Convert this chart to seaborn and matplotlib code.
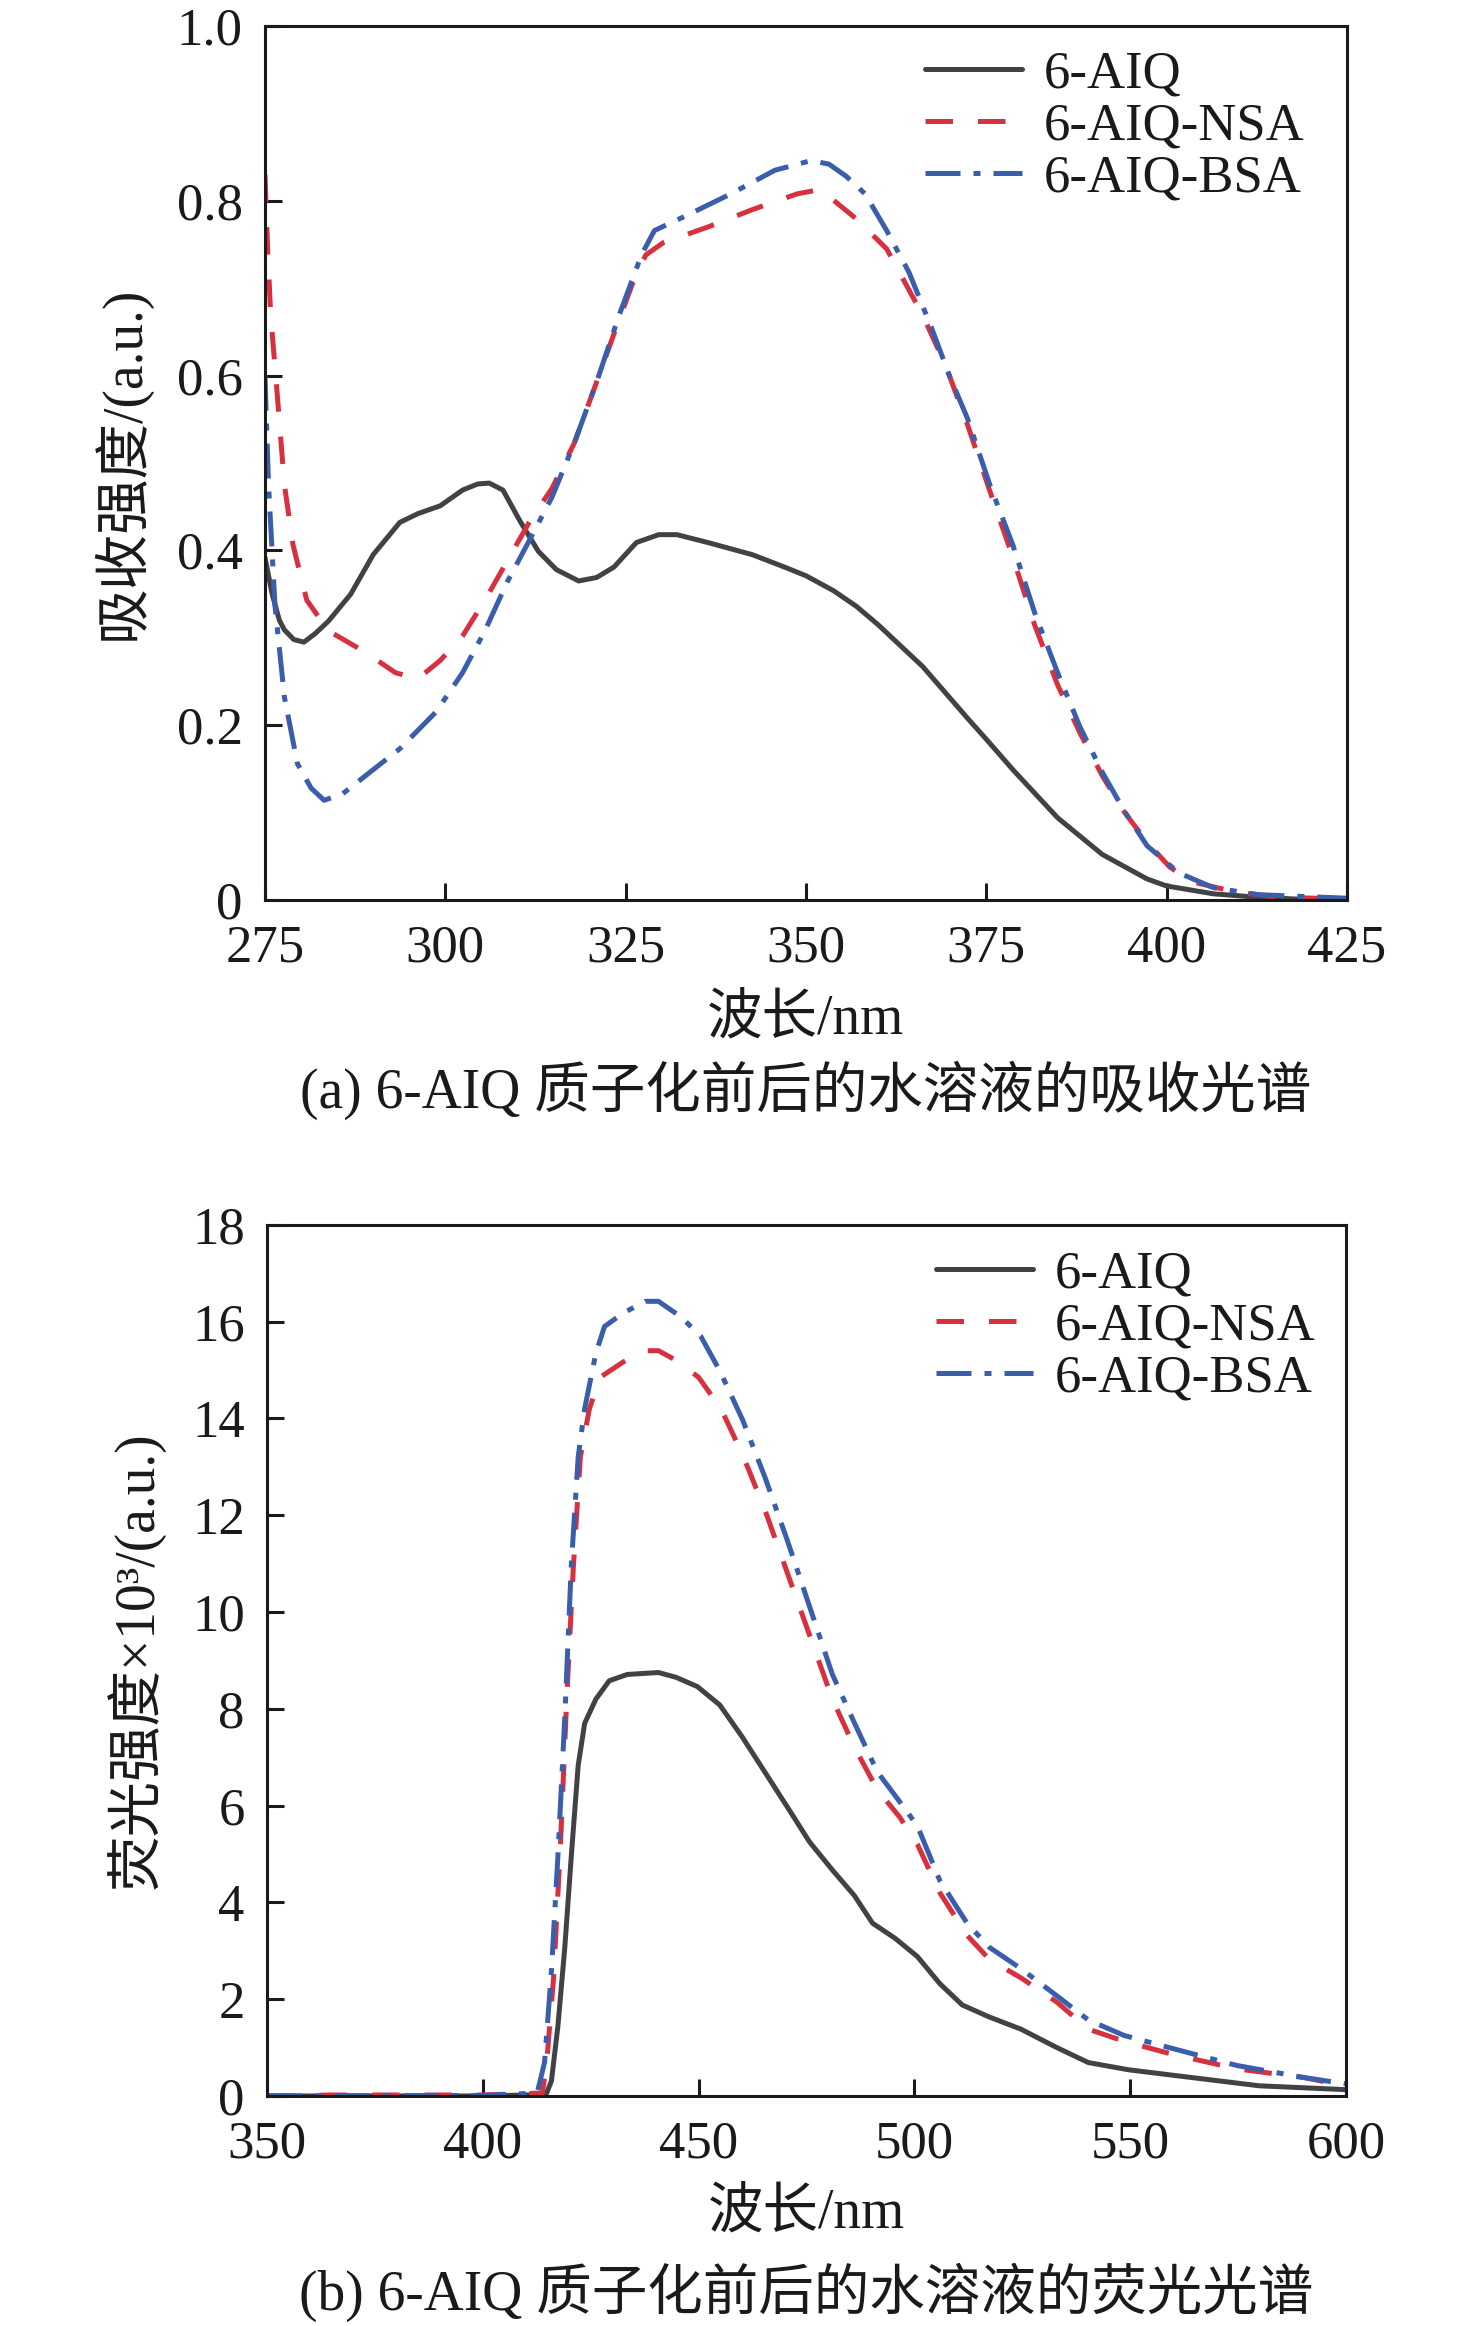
import numpy as np
import pandas as pd
import matplotlib
matplotlib.use("Agg")
import matplotlib.pyplot as plt
import seaborn as sns

# ---------------- data ----------------
series_names = ["6-AIQ", "6-AIQ-NSA", "6-AIQ-BSA"]

# (a) absorption
abs_aiq_x = [275, 276, 277, 277.7, 279, 280.4, 282, 283.8, 286.9, 290, 293.7, 296.2, 299.3, 302.4,
             304.5, 306.1, 308, 310.4, 312.9, 315.4, 318.5, 321, 323.4, 326.5, 329.6, 332.1, 336.4,
             342.6, 347, 350, 353.8, 357, 360, 366.2, 372.4, 375, 378.7, 384.9, 391.1, 397.3, 400,
             406.5, 412.7, 418, 425]
abs_aiq_y = [0.392, 0.35, 0.32, 0.309, 0.298, 0.295, 0.305, 0.319, 0.35, 0.395, 0.432, 0.442, 0.451,
             0.469, 0.476, 0.477, 0.469, 0.433, 0.399, 0.378, 0.365, 0.369, 0.381, 0.409, 0.418, 0.418,
             0.409, 0.395, 0.381, 0.371, 0.354, 0.336, 0.315, 0.267, 0.208, 0.184, 0.149, 0.094, 0.052,
             0.024, 0.016, 0.007, 0.003, 0.001, 0.001]

abs_nsa_x = [275, 275.4, 275.8, 276.7, 277.7, 278.9, 280.8, 283.8, 288.8, 293.1, 296.2, 299.3, 302.4,
             305.5, 308.6, 311.7, 314.8, 317.9, 321, 323.4, 325.9, 327.8, 330.2, 336.4, 342.6, 348.8,
             352, 356.9, 361.2, 366.2, 369.3, 372.4, 375.5, 378.7, 381.7, 384.9, 388, 391.1, 394.2,
             397.3, 400.4, 403.4, 409.6, 415.8, 425]
abs_nsa_y = [0.83, 0.74, 0.669, 0.579, 0.475, 0.406, 0.343, 0.308, 0.284, 0.26, 0.253, 0.274, 0.302,
             0.343, 0.388, 0.433, 0.471, 0.523, 0.593, 0.648, 0.704, 0.738, 0.752, 0.77, 0.79, 0.808,
             0.813, 0.78, 0.745, 0.669, 0.613, 0.544, 0.468, 0.392, 0.315, 0.246, 0.191, 0.142, 0.1,
             0.066, 0.038, 0.021, 0.009, 0.003, 0.001]

abs_bsa_x = [275, 275.5, 276.4, 277.7, 279.5, 281.4, 283.2, 285.7, 290, 293.7, 298.7, 302.4, 305.5,
             308.6, 311.7, 314.8, 317.9, 321, 324.1, 327.2, 329, 333.4, 339.6, 345.7, 350.7, 353.2,
             355.6, 358.2, 361.2, 364.3, 367.4, 369.9, 372.4, 375.5, 378.7, 381.7, 384.9, 388, 391.1,
             394.2, 397.3, 401.7, 406.5, 412.7, 425]
abs_bsa_y = [0.60, 0.475, 0.336, 0.232, 0.156, 0.128, 0.114, 0.121, 0.149, 0.173, 0.215, 0.26, 0.308,
             0.364, 0.412, 0.461, 0.523, 0.593, 0.669, 0.738, 0.766, 0.783, 0.808, 0.835, 0.846, 0.842,
             0.828, 0.808, 0.766, 0.718, 0.655, 0.6, 0.551, 0.475, 0.406, 0.329, 0.26, 0.198, 0.146,
             0.101, 0.062, 0.031, 0.014, 0.006, 0.002]

# (b) fluorescence (x10^3)
fl_aiq_x = [350, 400, 410, 413, 414.8, 415.9, 417.4, 419, 420.5, 422.1, 423.6, 426.2, 429.3, 433.5,
            440.7, 444.8, 449.7, 454.9, 460.1, 465.3, 470.5, 475.7, 480.9, 486.1, 490.3, 495.5,
            500.7, 505.9, 511.1, 517.4, 524.7, 533, 540.3, 549.7, 564.3, 579.9, 600]
fl_aiq_y = [0, 0, 0.02, 0.03, 0.06, 0.31, 1.44, 3.07, 4.95, 6.83, 7.7, 8.2, 8.58, 8.71, 8.75, 8.65,
            8.46, 8.08, 7.42, 6.7, 5.98, 5.25, 4.68, 4.14, 3.57, 3.26, 2.88, 2.32, 1.88, 1.63, 1.38,
            1.0, 0.69, 0.54, 0.38, 0.21, 0.13]

fl_nsa_x = [350, 365, 400, 410, 413.8, 414.8, 416.4, 418, 419.5, 421, 422.6, 424.7, 427.2, 432.4,
            437.6, 440.7, 444.8, 450, 455.2, 460.2, 465.4, 470.6, 475.8, 481, 486.1, 491.4, 496.6,
            500.7, 505.9, 512.2, 517.4, 524.7, 533, 540.3, 548.6, 559, 574.7, 590.3, 600]
fl_nsa_y = [0, 0.02, 0.02, 0.05, 0.06, 0.69, 2.44, 5.2, 8.33, 10.96, 13.2, 14.2, 14.85, 15.16, 15.4,
            15.4, 15.2, 14.85, 14.2, 13.25, 12.1, 10.8, 9.5, 8.2, 7.21, 6.33, 5.76, 5.2, 4.2, 3.32,
            2.82, 2.44, 1.94, 1.38, 1.13, 0.88, 0.56, 0.38, 0.21]

fl_bsa_x = [350, 400, 410, 412.7, 414.3, 415.9, 417.4, 419, 420.5, 422.1, 423.6, 426.2, 428.2, 432.4,
            437.6, 440.7, 445.9, 450.5, 455, 460.2, 465.4, 470.6, 475.8, 481, 486.1, 491.4, 496.6,
            500.7, 505.9, 512.2, 517.4, 524.7, 533, 540.3, 548.6, 559, 574.7, 590.3, 600]
fl_bsa_y = [0, 0.01, 0.05, 0.1, 0.69, 2.57, 4.95, 7.83, 10.96, 13.2, 14.2, 15.35, 15.9, 16.17, 16.42,
            16.42, 16.1, 15.7, 14.97, 13.97, 12.78, 11.47, 10.09, 8.71, 7.71, 6.7, 6.08, 5.58, 4.45,
            3.57, 3.07, 2.63, 2.07, 1.57, 1.25, 1.0, 0.63, 0.38, 0.25]

abs_xticks = [275, 300, 325, 350, 375, 400, 425]
abs_yticks = [0, 0.2, 0.4, 0.6, 0.8, 1.0]
abs_yticklabels = ["0", "0.2", "0.4", "0.6", "0.8", "1.0"]
fl_xticks = [350, 400, 450, 500, 550, 600]
fl_yticks = [0, 2, 4, 6, 8, 10, 12, 14, 16, 18]
fl_yticklabels = ["0", "2", "4", "6", "8", "10", "12", "14", "16", "18"]

xlabel_text = "波长/nm"
abs_ylabel = "吸收强度/(a.u.)"
fl_ylabel = "荧光强度×10³/(a.u.)"
caption_a = "(a) 6-AIQ 质子化前后的水溶液的吸收光谱"
caption_b = "(b) 6-AIQ 质子化前后的水溶液的荧光光谱"

# ---------------- style ----------------
sns.set_theme(style="white")
plt.rcParams["font.family"] = ["Liberation Serif", "Noto Sans CJK SC", "DejaVu Sans"]
plt.rcParams["axes.unicode_minus"] = False

colors = ["#424246", "#d7303f", "#3a5eac"]
lw = 3.6
linestyles = ["-", (0, (5.5, 5.0)), (0, (7.0, 2.6, 1.4, 2.6))]

TICK_FS = 38
LABEL_FS = 40
LEG_FS = 38

fig = plt.figure(figsize=(14.76, 23.26), dpi=100)
ax1 = fig.add_axes([0.1795, 0.6131, 0.733, 0.3757])
ax2 = fig.add_axes([0.1809, 0.0989, 0.731, 0.3745])


def draw(ax, xs, ys, xlim, ylim, xticks, yticks, yticklabels, ylabel, ylabel_x, xlabel_y, leg_anchor):
    for name, x, y, c, ls in zip(series_names, xs, ys, colors, linestyles):
        df = pd.DataFrame({"x": x, "y": y})
        sns.lineplot(data=df, x="x", y="y", ax=ax, color=c, linestyle=ls, linewidth=lw,
                     estimator=None, sort=False, label=name)
    ax.set_xlim(*xlim)
    ax.set_ylim(*ylim)
    ax.set_xticks(xticks)
    ax.set_xticklabels([str(t) for t in xticks])
    ax.set_yticks(yticks)
    ax.set_yticklabels(yticklabels)
    ax.tick_params(axis="both", direction="in", length=12, width=2.2, colors="#1a1a1a",
                   labelsize=TICK_FS, top=False, right=False, bottom=True, left=True)
    ax.tick_params(axis="x", pad=18)
    ax.tick_params(axis="y", pad=16)
    for sp in ax.spines.values():
        sp.set_visible(True)
        sp.set_linewidth(2.2)
        sp.set_color("#1a1a1a")
    ax.set_xlabel(xlabel_text, fontsize=LABEL_FS, color="#1a1a1a")
    ax.xaxis.label.set_va("center")
    ax.xaxis.set_label_coords(0.5, xlabel_y)
    ax.set_ylabel(ylabel, fontsize=LABEL_FS, color="#1a1a1a")
    ax.yaxis.label.set_va("center")
    ax.yaxis.set_label_coords(ylabel_x, 0.5)
    ax.grid(False)
    leg = ax.legend(loc="upper left", bbox_to_anchor=leg_anchor, frameon=False, fontsize=LEG_FS,
                    borderpad=0, borderaxespad=0, handlelength=1.84, handletextpad=0.42,
                    labelspacing=0.08)
    for t in leg.get_texts():
        t.set_color("#1a1a1a")


draw(ax1, [abs_aiq_x, abs_nsa_x, abs_bsa_x], [abs_aiq_y, abs_nsa_y, abs_bsa_y],
     (275, 425), (0, 1.0), abs_xticks, abs_yticks, abs_yticklabels, abs_ylabel,
     -0.133, -0.137, (0.61, 0.972))
draw(ax2, [fl_aiq_x, fl_nsa_x, fl_bsa_x], [fl_aiq_y, fl_nsa_y, fl_bsa_y],
     (350, 600), (0, 18), fl_xticks, fl_yticks, fl_yticklabels, fl_ylabel,
     -0.121, -0.135, (0.62, 0.971))

fig.text(0.546, 0.5314, caption_a, ha="center", va="center", fontsize=LABEL_FS, color="#1a1a1a")
fig.text(0.546, 0.0146, caption_b, ha="center", va="center", fontsize=LABEL_FS, color="#1a1a1a")

fig.savefig("out.png", dpi=100, facecolor="white")
